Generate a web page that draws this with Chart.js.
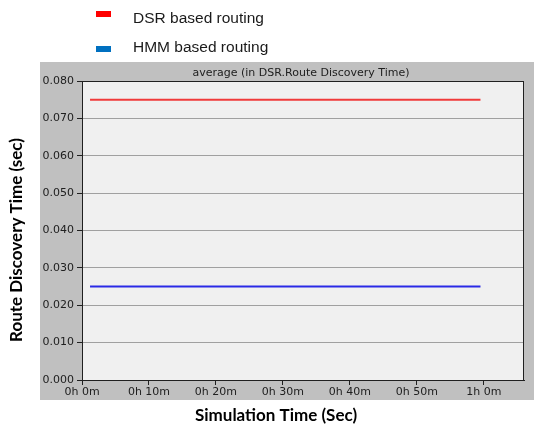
<!DOCTYPE html>
<html>
<head>
<meta charset="utf-8">
<script src="https://cdn.jsdelivr.net/npm/chart.js@4"></script>
<style>
  html, body { margin: 0; padding: 0; background: #ffffff; }
  #wrap { position: relative; width: 534px; height: 429px; }
</style>
</head>
<body>
<div id="wrap"><canvas id="chart" width="534" height="429"></canvas></div>
<script>
// Simulation time in minutes for the recorded samples
const timeMinutes = [1.2, 59.5];
// Average route discovery time (sec)
const dsrValues = [0.075, 0.075];
const hmmValues = [0.025, 0.025];

const seriesLabels = ['DSR based routing', 'HMM based routing'];
const lineColors = ['#f03a3a', '#2a2ae6'];
const legendColors = ['#ff0000', '#0070c0'];

const xTickMinutes = [0, 10, 20, 30, 40, 50, 60];
const yTickValues = [0, 0.01, 0.02, 0.03, 0.04, 0.05, 0.06, 0.07, 0.08];

const panelTitle = 'average (in DSR.Route Discovery Time)';
const xTitle = 'Simulation Time (Sec)';
const yTitle = 'Route Discovery Time (sec)';

function toPoints(xs, ys) {
  return xs.map((x, i) => ({ x: x, y: ys[i] }));
}

function fmtTime(m) {
  const h = Math.floor(m / 60);
  const mm = Math.round(m - h * 60);
  return h + 'h ' + mm + 'm';
}

// Gray frame, light plot background and outer border
const framePlugin = {
  id: 'frame',
  beforeDraw(chart) {
    const { ctx, chartArea: a } = chart;
    ctx.save();
    ctx.fillStyle = '#c0c0c0';
    ctx.fillRect(40, 62, 494, 338);
    ctx.fillStyle = '#f0f0f0';
    ctx.fillRect(a.left, a.top, a.right - a.left, a.bottom - a.top);
    ctx.restore();
  },
  afterDraw(chart) {
    const { ctx, chartArea: a } = chart;
    ctx.save();
    ctx.strokeStyle = '#202020';
    ctx.lineWidth = 1;
    ctx.strokeRect(a.left + 0.5, a.top + 0.5, a.right - a.left - 1, a.bottom - a.top);

    // panel title
    ctx.fillStyle = '#202020';
    ctx.font = '11px "DejaVu Sans"';
    ctx.textAlign = 'center';
    ctx.textBaseline = 'middle';
    ctx.fillText(panelTitle, 301, 73);

    // axis titles
    ctx.fillStyle = '#000000';
    ctx.font = 'bold 17px Lato';
    ctx.fillText(xTitle, 276, 416);
    ctx.save();
    ctx.translate(17, 240);
    ctx.rotate(-Math.PI / 2);
    ctx.fillText(yTitle, 0, 0);
    ctx.restore();

    // legend
    ctx.textAlign = 'left';
    ctx.font = '15.5px "Liberation Sans"';
    const boxTops = [11, 46];
    const textMids = [19, 47.5];
    chart.data.datasets.forEach((ds, i) => {
      ctx.fillStyle = legendColors[i];
      ctx.fillRect(96, boxTops[i], 15, 6);
      ctx.fillStyle = '#1a1a1a';
      ctx.fillText(ds.label, 133, textMids[i]);
    });
    ctx.restore();
  }
};

new Chart(document.getElementById('chart'), {
  type: 'line',
  data: {
    datasets: [
      { label: seriesLabels[0], data: toPoints(timeMinutes, dsrValues), borderColor: lineColors[0], borderWidth: 2, pointRadius: 0, tension: 0 },
      { label: seriesLabels[1], data: toPoints(timeMinutes, hmmValues), borderColor: lineColors[1], borderWidth: 2, pointRadius: 0, tension: 0 }
    ]
  },
  options: {
    responsive: false,
    animation: false,
    layout: { padding: { left: 0, top: 81, right: 10, bottom: 29 } },
    plugins: { legend: { display: false }, title: { display: false }, tooltip: { enabled: false } },
    scales: {
      x: {
        type: 'linear',
        min: 0,
        max: 66,
        afterBuildTicks: s => { s.ticks = xTickMinutes.map(v => ({ value: v })); },
        afterFit: s => { s.height = 20; },
        grid: { drawOnChartArea: false, drawTicks: true, tickLength: 5, tickColor: '#202020' },
        border: { color: '#202020' },
        ticks: {
          padding: 1,
          maxRotation: 0,
          color: '#202020',
          font: { family: 'DejaVu Sans', size: 11 },
          callback: v => fmtTime(v)
        }
      },
      y: {
        min: 0,
        max: 0.08,
        afterBuildTicks: s => { s.ticks = yTickValues.map(v => ({ value: v })); },
        afterFit: s => { s.width = 82; },
        grid: { color: '#a0a0a0', drawTicks: true, tickLength: 5, tickColor: '#202020' },
        border: { color: '#202020' },
        ticks: {
          padding: 3,
          color: '#202020',
          font: { family: 'DejaVu Sans', size: 11 },
          callback: v => v.toFixed(3)
        }
      }
    }
  },
  plugins: [framePlugin]
});
</script>
</body>
</html>
